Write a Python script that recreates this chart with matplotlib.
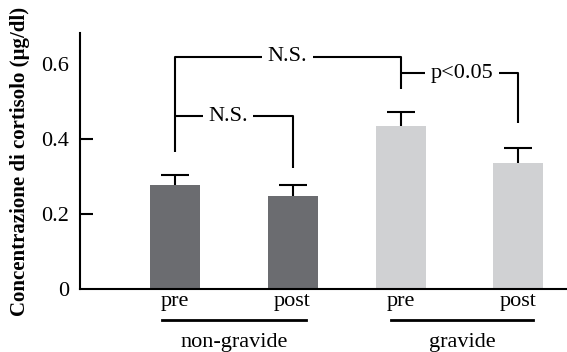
import matplotlib.pyplot as plt
import numpy as np

plt.rcParams["font.family"] = ["Liberation Serif", "DejaVu Serif"]

# data
labels = ["pre", "post", "pre", "post"]
groups = ["non-gravide", "gravide"]
means = [0.277, 0.248, 0.435, 0.336]
errs = [0.027, 0.029, 0.037, 0.040]
colors = ["#6b6c70", "#6b6c70", "#d0d1d3", "#d0d1d3"]
pos = np.array([0, 1, 1.92, 2.92])

fs = 16
fig = plt.figure(figsize=(5.67, 3.52), dpi=100)
ax = fig.add_axes([80 / 567, 63 / 352, 487 / 567, 256 / 352])

ax.bar(pos, means, width=0.426, color=colors, zorder=2)
# upper error bars only
tops = np.array(means) + np.array(errs)
ax.vlines(pos, means, tops, color="black", lw=1.5, zorder=1)
ax.hlines(tops, pos - 0.12, pos + 0.12, color="black", lw=1.5, zorder=1)

ax.set_xlim(-0.81, 3.336)
ax.set_ylim(0, 0.683)
ax.set_yticks([0, 0.2, 0.4, 0.6])
ax.set_yticklabels(["0", "0.2", "0.4", "0.6"], fontsize=fs)
ax.tick_params(axis="y", direction="in", length=9, width=1.5, pad=8)
ax.yaxis.get_major_ticks()[0].tick1line.set_visible(False)
ax.yaxis.get_major_ticks()[3].tick1line.set_visible(False)
ax.set_xticks(pos)
ax.set_xticklabels(labels, fontsize=fs)
ax.tick_params(axis="x", length=0, pad=2)
for s in ["top", "right"]:
    ax.spines[s].set_visible(False)
for s in ["left", "bottom"]:
    ax.spines[s].set_linewidth(1.5)
ax.set_ylabel("Concentrazione di cortisolo (µg/dl)", fontsize=15,
              fontweight="bold", labelpad=8)

# brackets
lw = 1.5
kw = dict(color="black", lw=lw, solid_capstyle="butt", clip_on=False)
# outer N.S.
ax.plot([pos[0], pos[0], pos[2], pos[2]], [0.365, 0.619, 0.619, 0.533], **kw)
# inner N.S.
ax.plot([pos[0], pos[1], pos[1]], [0.461, 0.461, 0.323], **kw)
# p<0.05
ax.plot([pos[2], pos[3], pos[3]], [0.576, 0.576, 0.443], **kw)
bb = dict(facecolor="white", edgecolor="none", pad=4)
ax.text(0.955, 0.619, "N.S.", ha="center", va="center", fontsize=fs, bbox=bb)
ax.text(0.45, 0.461, "N.S.", ha="center", va="center", fontsize=fs, bbox=bb)
ax.text(2.44, 0.576, "p<0.05", ha="center", va="center", fontsize=fs, bbox=bb)

# group lines under the axis
tr = ax.get_xaxis_transform()
for x0, x1, g in [(-0.11, 1.11, groups[0]), (1.84, 3.05, groups[1])]:
    ax.plot([x0, x1], [-0.121, -0.121], transform=tr, color="black", lw=2,
            clip_on=False)
    ax.text((x0 + x1) / 2, -0.21, g, transform=tr, ha="center", va="center",
            fontsize=fs)

fig.savefig("out.png", dpi=100)
